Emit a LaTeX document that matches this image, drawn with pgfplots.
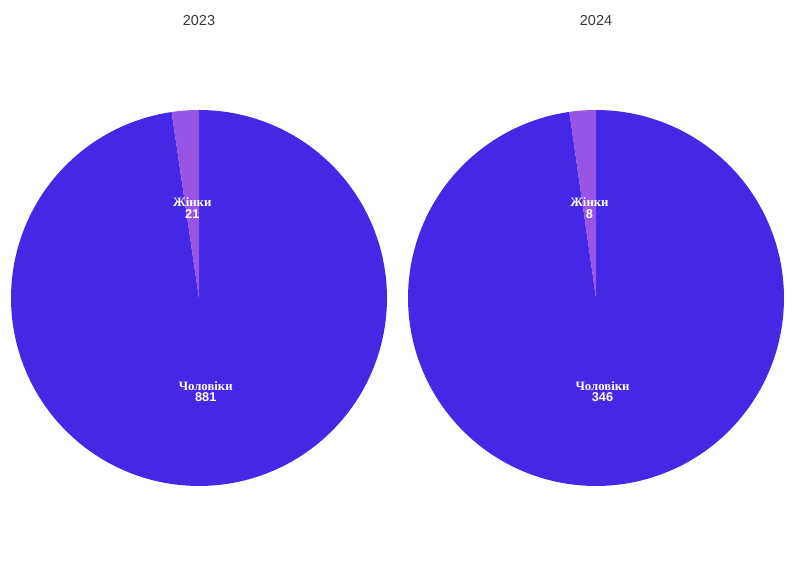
\documentclass[border=0pt]{standalone}
\usepackage{pgfplots}
\pgfplotsset{compat=1.18}
\usepackage{fontspec}
\setmainfont{Liberation Sans}
\newfontfamily\serifb{Liberation Serif}
\definecolor{men}{RGB}{68,40,230}
\definecolor{women}{RGB}{152,84,228}
\definecolor{ttl}{RGB}{55,55,55}
% data
\def\womenA{21}\def\menA{881}
\def\womenB{8}\def\menB{346}
\pgfmathsetmacro{\angA}{90+360*\womenA/(\womenA+\menA)}
\pgfmathsetmacro{\angB}{90+360*\womenB/(\womenB+\menB)}
\pgfmathsetmacro{\midWA}{(90+\angA)/2}
\pgfmathsetmacro{\midMA}{(\angA+450)/2}
\pgfmathsetmacro{\midWB}{(90+\angB)/2}
\pgfmathsetmacro{\midMB}{(\angB+450)/2}
\begin{document}
\begin{tikzpicture}
\begin{axis}[hide axis, scale only axis, x=1bp, y=1bp,
  xmin=0, xmax=794, ymin=-575, ymax=0, clip=false]
\addplot[draw=none, forget plot] coordinates {(0,0) (794,-575)};
% 2023 pie, centre (199,-298), r=188
\addplot[fill=men, draw=none, domain=\angA:450, samples=200]
  ({199+188*cos(x)}, {-298+188*sin(x)}) -- (axis cs:199,-298) -- cycle;
\addplot[fill=women, draw=none, domain=90:\angA, samples=10]
  ({199+188*cos(x)}, {-298+188*sin(x)}) -- (axis cs:199,-298) -- cycle;
% 2024 pie, centre (596,-298)
\addplot[fill=men, draw=none, domain=\angB:450, samples=200]
  ({596+188*cos(x)}, {-298+188*sin(x)}) -- (axis cs:596,-298) -- cycle;
\addplot[fill=women, draw=none, domain=90:\angB, samples=10]
  ({596+188*cos(x)}, {-298+188*sin(x)}) -- (axis cs:596,-298) -- cycle;
% labels
\tikzset{lbl/.style={text=white, align=center, inner sep=0pt, font=\fontsize{12.8}{11.5}\selectfont}}
\node[lbl] at (axis cs:{199+92*cos(\midWA)},{-300+92*sin(\midWA)})
  {{\serifb\bfseries Жінки}\\\bfseries\womenA};
\node[lbl] at (axis cs:{199+92*cos(\midMA)},{-300+92*sin(\midMA)})
  {{\serifb\bfseries Чоловіки}\\\bfseries\menA};
\node[lbl] at (axis cs:{596+92*cos(\midWB)},{-300+92*sin(\midWB)})
  {{\serifb\bfseries Жінки}\\\bfseries\womenB};
\node[lbl] at (axis cs:{596+92*cos(\midMB)},{-300+92*sin(\midMB)})
  {{\serifb\bfseries Чоловіки}\\\bfseries\menB};
% titles
\node[text=ttl, font=\fontsize{14.5}{16}\selectfont] at (axis cs:199,-21) {2023};
\node[text=ttl, font=\fontsize{14.5}{16}\selectfont] at (axis cs:596,-21) {2024};
\end{axis}
\end{tikzpicture}
\end{document}
